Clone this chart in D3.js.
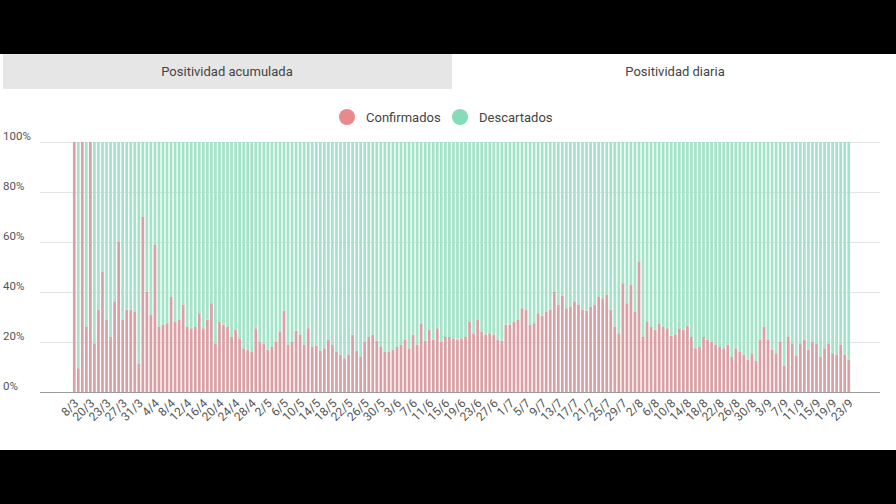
<!DOCTYPE html>
<html><head><meta charset="utf-8">
<script src="https://cdn.jsdelivr.net/npm/d3@7"></script>
<style>
html,body{margin:0;padding:0;background:#000;}
svg{display:block;font-family:Roboto,"Noto Sans",sans-serif;}
</style></head>
<body><svg id="c" width="896" height="504"></svg>
<script>
const tabs = ["Positividad acumulada", "Positividad diaria"];
const seriesNames = ["Confirmados", "Descartados"];
const seriesColors = ["#e8898d", "#85dcb7"];
const barColors = ["#d9a0a5", "#a3e3c9"];
const yTicks = [0, 20, 40, 60, 80, 100];

const dates = [
"8/3","12/3","15/3","17/3","20/3","21/3","22/3","22/3",
"23/3","24/3","25/3","26/3","27/3","28/3","29/3","30/3","31/3",
"1/4","2/4","3/4","4/4","5/4","6/4","7/4","8/4","9/4","10/4","11/4","12/4","13/4","14/4","15/4",
"16/4","17/4","18/4","19/4","20/4","21/4","22/4","23/4","24/4","25/4","26/4","27/4","28/4","29/4","30/4",
"1/5","2/5","3/5","4/5","5/5","6/5","7/5","8/5","9/5","10/5","11/5","12/5","13/5","14/5","15/5","16/5",
"17/5","18/5","19/5","20/5","21/5","22/5","23/5","24/5","25/5","26/5","27/5","28/5","29/5","30/5","31/5",
"1/6","2/6","3/6","4/6","5/6","6/6","7/6","8/6","9/6","10/6","11/6","12/6","13/6","14/6","15/6",
"16/6","17/6","18/6","19/6","20/6","21/6","22/6","23/6","24/6","25/6","26/6","27/6","28/6","29/6","30/6",
"1/7","2/7","3/7","4/7","5/7","6/7","7/7","8/7","9/7","10/7","11/7","12/7","13/7","14/7","15/7","16/7",
"17/7","18/7","19/7","20/7","21/7","22/7","23/7","24/7","25/7","26/7","27/7","28/7","29/7","30/7","31/7",
"1/8","2/8","3/8","4/8","5/8","6/8","7/8","8/8","9/8","10/8","11/8","12/8","13/8","14/8","15/8","16/8",
"17/8","18/8","19/8","20/8","21/8","22/8","23/8","24/8","25/8","26/8","27/8","28/8","29/8","30/8","31/8",
"1/9","2/9","3/9","4/9","5/9","6/9","7/9","8/9","9/9","10/9","11/9","12/9","13/9","14/9","15/9","16/9",
"17/9","18/9","19/9","20/9","21/9","22/9","23/9"
];

// % confirmados por día
const confirmados = [
100, 9.5, 100, 26, 100, 19.5, 33, 48, 29, 22,
36, 60, 29, 33, 33, 32, 11.5, 70, 40, 31,
59, 26, 27, 27.5, 38, 28, 29, 35, 26, 25.5,
26, 31.5, 25.5, 29, 35.5, 19.5, 28, 27, 26, 22,
25, 21.5, 17.5, 17, 16, 25.5, 20, 19.5, 17, 18,
20, 24, 32.5, 19, 20, 24.5, 23, 19, 25.5, 18,
18.5, 16.5, 17.5, 21, 19, 16, 15, 13.5, 15, 23,
16.5, 14, 20, 22, 23, 20.5, 18, 16, 16, 17,
18, 19, 21, 17.5, 23, 19, 27.5, 20.5, 25, 21,
25.5, 20, 22, 22, 21.5, 21, 21.5, 22, 28, 23.5,
29, 24, 23, 23.5, 23, 21, 20.5, 27, 27, 28,
29, 33.5, 33, 27, 27.5, 31.5, 30.5, 32, 33, 40,
35, 38.5, 33.5, 34, 36, 35, 33, 32.5, 34, 35,
38, 37.5, 39, 33, 26, 23.5, 43.5, 35.5, 43, 32,
52, 22, 28, 26, 25, 27.5, 26, 25.5, 22.5, 23,
25.5, 25, 26.5, 22, 17.5, 18, 22, 21, 20, 19,
18, 17.5, 19, 14, 17.5, 16, 15, 13, 15.5, 12.5,
21, 26, 21, 17, 15.5, 20, 10.5, 22, 19.5, 14.5,
19.5, 21, 17, 20, 19.5, 14, 17.5, 19.5, 15.5, 15,
19, 15, 13
];
const descartados = confirmados.map(v => 100 - v);

const W = 896, H = 504;
const svg = d3.select("#c");

// frame
svg.append("rect").attr("x",0).attr("y",0).attr("width",W).attr("height",H).attr("fill","#000");
svg.append("rect").attr("x",0).attr("y",54).attr("width",W).attr("height",396).attr("fill","#fff");

// tabs
svg.append("rect").attr("x",3).attr("y",54).attr("width",449).attr("height",35).attr("fill","#e6e6e6");
svg.selectAll("text.tab").data(tabs).join("text").attr("class","tab")
  .attr("x",(d,i)=> i===0 ? 227 : 675).attr("y",76)
  .attr("text-anchor","middle").attr("font-size",13).attr("fill","#444").text(d=>d);

// legend
const legX = [347, 460];
const lg = svg.append("g");
seriesNames.forEach((n,i)=>{
  lg.append("circle").attr("cx",legX[i]).attr("cy",117).attr("r",8).attr("fill",seriesColors[i]);
  lg.append("text").attr("x",legX[i]+19).attr("y",121.5).attr("font-size",13).attr("fill","#444").text(n);
});

// scales
const idx = d3.range(dates.length);
const x = d3.scaleBand().domain(idx).range([72.5, 850.5]).paddingInner(0.33).paddingOuter(0.1);
const y = d3.scaleLinear().domain([0,100]).range([392,142]);

// grid
const grid = svg.append("g");
grid.selectAll("line").data(yTicks).join("line")
  .attr("x1",40).attr("x2",880).attr("y1",d=>y(d)+0.5).attr("y2",d=>y(d)+0.5)
  .attr("stroke",d=> d===0 ? "#9a9a9a" : "#e4e4e4").attr("stroke-width",1);
grid.selectAll("text").data(yTicks).join("text")
  .attr("x",3).attr("y",d=>y(d)-2).attr("font-size",11.5).attr("fill","#555")
  .text(d=>d+"%");

// stacked bars
const rows = idx.map(i=>({i, Confirmados: confirmados[i], Descartados: descartados[i]}));
const stacked = d3.stack().keys(seriesNames)(rows);
svg.append("g").selectAll("g").data(stacked).join("g")
  .attr("fill",(d,k)=>barColors[k])
  .selectAll("rect").data(d=>d).join("rect")
  .attr("x",d=>x(d.data.i)).attr("width",x.bandwidth())
  .attr("y",d=>y(d[1])).attr("height",d=>y(d[0])-y(d[1]));

// redraw axis line on top
svg.append("line").attr("x1",40).attr("x2",880).attr("y1",392.5).attr("y2",392.5)
  .attr("stroke","#9a9a9a");

// x tick labels (every 4th category)
const tickIdx = idx.filter(i=> i % 4 === 0);
const xl = svg.append("g");
xl.selectAll("text").data(tickIdx).join("text")
  .attr("transform",i=>`translate(${x(i)+x.bandwidth()/2+5},${404}) rotate(-45)`)
  .attr("text-anchor","end").attr("font-size",12).attr("fill","#555")
  .text(i=>dates[i]);
</script></body></html>
